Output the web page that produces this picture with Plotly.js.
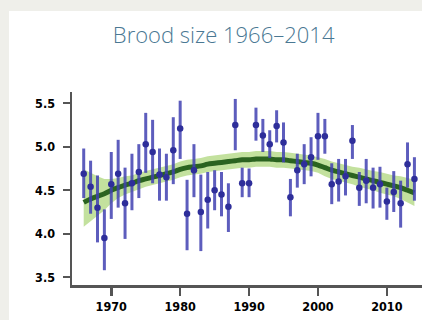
<!DOCTYPE html>
<html>
<head>
<meta charset="utf-8">
<script src="https://cdn.plot.ly/plotly-3.0.1.min.js"></script>
<style>
html,body{margin:0;padding:0;background:#efefea;width:422px;height:320px;overflow:hidden;}
#panel{position:absolute;left:9px;top:11px;width:413px;height:309px;background:#ffffff;}
#chart{position:absolute;left:0;top:0;width:422px;height:320px;}
</style>
</head>
<body>
<div id="panel"></div>
<div id="chart"></div>
<script>
// Observed yearly brood size (mean with error range)
const years = [1966,1967,1968,1969,1970,1971,1972,1973,1974,1975,1976,1977,1978,1979,1980,1981,1982,1983,1984,1985,1986,1987,1988,1989,1990,1991,1992,1993,1994,1995,1996,1997,1998,1999,2000,2001,2002,2003,2004,2005,2006,2007,2008,2009,2010,2011,2012,2013,2014];
const broodMean = [4.69,4.54,4.30,3.95,4.57,4.69,4.35,4.58,4.71,5.03,4.94,4.68,4.65,4.96,5.21,4.23,4.73,4.25,4.39,4.50,4.45,4.31,5.25,4.58,4.58,5.25,5.13,5.03,5.24,5.05,4.42,4.73,4.80,4.88,5.12,5.12,4.57,4.60,4.66,5.07,4.53,4.61,4.53,4.57,4.37,4.48,4.35,4.80,4.63];
const broodUpper = [4.98,4.84,4.67,4.28,4.94,5.08,4.76,4.92,5.03,5.39,5.31,4.98,4.92,5.34,5.53,4.62,5.03,4.68,4.71,4.73,4.71,4.58,5.55,4.76,4.75,5.45,5.32,5.19,5.42,5.28,4.63,4.92,5.03,5.11,5.39,5.32,4.81,4.86,4.86,5.25,4.71,4.86,4.76,4.77,4.53,4.72,4.61,5.05,4.88];
const broodLower = [4.41,4.23,3.90,3.58,4.17,4.30,3.94,4.27,4.41,4.70,4.58,4.38,4.38,4.57,4.86,3.81,4.42,3.80,4.06,4.27,4.20,4.02,4.96,4.42,4.42,5.07,4.94,4.87,5.05,4.82,4.20,4.53,4.57,4.66,4.85,4.92,4.34,4.37,4.44,4.86,4.32,4.35,4.29,4.30,4.16,4.25,4.07,4.53,4.38];

// Smoothed trend with confidence band
const trendYears = years;
const trendMean = [4.36,4.40,4.43,4.46,4.50,4.53,4.56,4.58,4.61,4.63,4.65,4.67,4.69,4.71,4.74,4.76,4.77,4.78,4.80,4.81,4.82,4.83,4.84,4.85,4.85,4.86,4.86,4.86,4.85,4.85,4.84,4.83,4.82,4.81,4.79,4.76,4.73,4.71,4.69,4.67,4.65,4.63,4.61,4.59,4.57,4.55,4.53,4.50,4.47];
const trendUpper = [4.74,4.70,4.66,4.63,4.63,4.64,4.66,4.67,4.70,4.72,4.74,4.76,4.78,4.80,4.83,4.85,4.86,4.87,4.89,4.90,4.91,4.92,4.93,4.94,4.94,4.95,4.95,4.95,4.94,4.94,4.93,4.92,4.91,4.90,4.88,4.86,4.83,4.81,4.79,4.77,4.76,4.74,4.72,4.71,4.69,4.67,4.66,4.64,4.62];
const trendLower = [4.08,4.14,4.20,4.27,4.35,4.41,4.45,4.48,4.51,4.54,4.56,4.58,4.60,4.62,4.65,4.67,4.68,4.69,4.71,4.72,4.73,4.74,4.75,4.76,4.76,4.77,4.77,4.77,4.76,4.76,4.75,4.74,4.73,4.72,4.70,4.66,4.63,4.61,4.59,4.57,4.54,4.52,4.50,4.47,4.45,4.43,4.40,4.36,4.32];

const xTicks = [1970,1980,1990,2000,2010];
const yTicks = [3.5,4.0,4.5,5.0,5.5];
const yTickText = ['3.5','4.0','4.5','5.0','5.5'];

const errPlus = broodUpper.map((u,i)=>+(u-broodMean[i]).toFixed(3));
const errMinus = broodMean.map((m,i)=>+(m-broodLower[i]).toFixed(3));

const traces = [
  {x: trendYears, y: trendUpper, mode:'lines', line:{width:0, color:'rgba(0,0,0,0)'}, hoverinfo:'skip', showlegend:false},
  {x: trendYears, y: trendLower, mode:'lines', fill:'tonexty', fillcolor:'rgba(175,215,125,0.75)', line:{width:0, color:'rgba(0,0,0,0)'}, hoverinfo:'skip', showlegend:false},
  {x: trendYears, y: trendMean, mode:'lines', line:{color:'#2b6320', width:5, shape:'spline'}, showlegend:false},
  {x: years, y: broodMean, mode:'markers',
   marker:{color:'#2e2e9a', size:6.5},
   error_y:{type:'data', symmetric:false, array:errPlus, arrayminus:errMinus, color:'rgba(65,65,178,0.85)', thickness:3, width:0},
   showlegend:false}
];

const tickFont = {family:'DejaVu Sans Condensed, DejaVu Sans, sans-serif', size:12.5, color:'#000', weight:'bold'};

const layout = {
  width:422, height:320,
  margin:{l:72, r:0, t:92, b:35, pad:0},
  paper_bgcolor:'rgba(0,0,0,0)',
  plot_bgcolor:'rgba(0,0,0,0)',
  title:{text:'Brood size 1966–2014', x:0.53, xanchor:'center', y:0.89, yanchor:'middle',
         font:{family:'Open Sans, sans-serif', size:22, color:'#4a7893', weight:300}},
  xaxis:{range:[1964.3,2015.1], tickvals:xTicks, ticktext:xTicks.map(String), ticks:'outside', ticklen:8, tickwidth:2.5, tickcolor:'#555',
         showline:true, linecolor:'#555', linewidth:2.5, showgrid:false, zeroline:false, tickfont:tickFont},
  yaxis:{range:[3.41,5.63], tickvals:yTicks, ticktext:yTickText, ticks:'outside', ticklen:7, tickwidth:2, tickcolor:'#555',
         ticklabelstandoff:5,
         showline:true, linecolor:'#555', linewidth:2.5, showgrid:false, zeroline:false, tickfont:tickFont},
  showlegend:false
};

Plotly.newPlot('chart', traces, layout, {displayModeBar:false, staticPlot:true});
</script>
</body>
</html>
